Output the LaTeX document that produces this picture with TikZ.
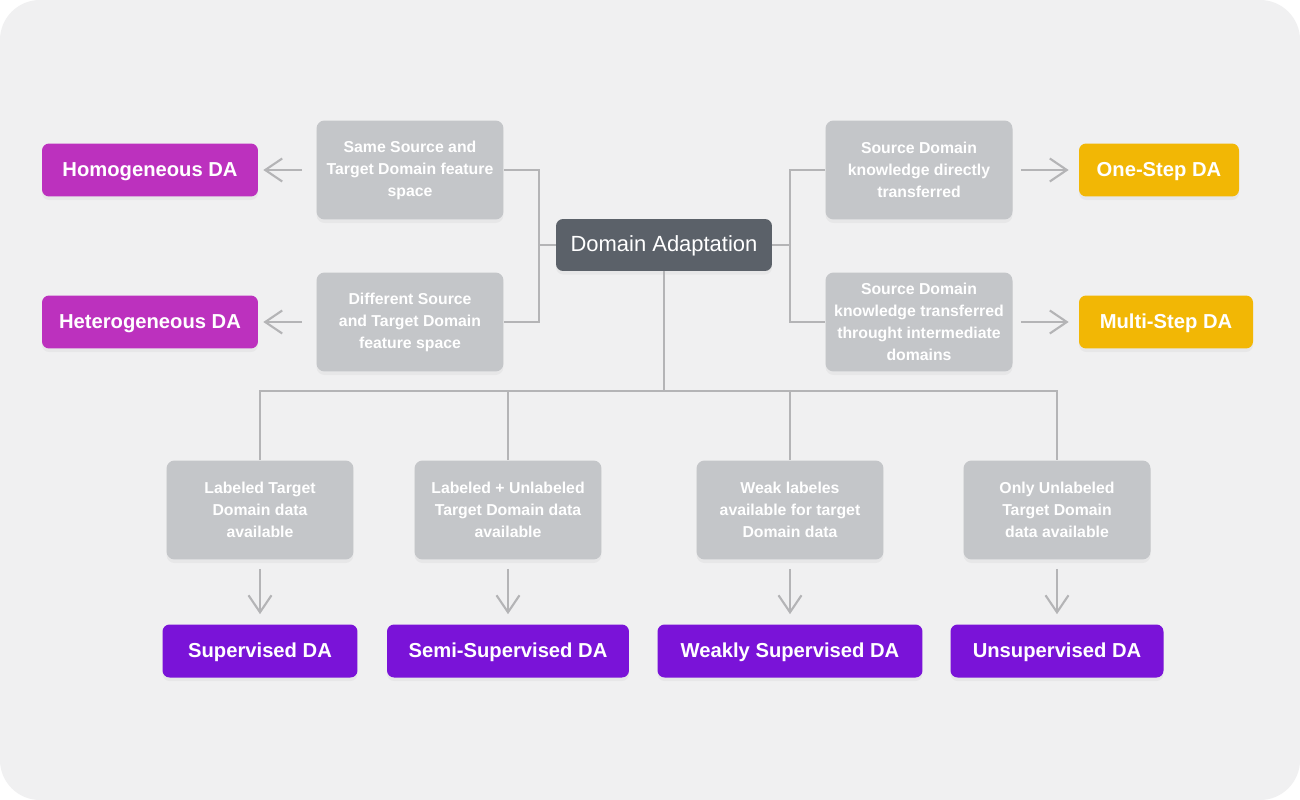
\documentclass[tikz,border=0pt]{standalone}
\usepackage{fontspec}
\setmainfont{Liberation Sans}
\usetikzlibrary{arrows.meta,shadows}

\definecolor{bgcol}{HTML}{F0F0F1}
\definecolor{boxgray}{HTML}{C4C6C9}
\definecolor{rootgray}{HTML}{5B6169}
\definecolor{magentada}{HTML}{BC31BE}
\definecolor{yellowda}{HTML}{F2B705}
\definecolor{purpleda}{HTML}{7A13D8}
\definecolor{linegray}{HTML}{B4B4B6}

\tikzset{
  softshadow/.style={drop shadow={shadow xshift=0pt,shadow yshift=-2pt,opacity=0.035,fill=black}},
  condbox/.style={rectangle, rounded corners=0.16cm, fill=boxgray, text=white, softshadow,
    minimum width=3.74cm, minimum height=1.98cm, align=center,
    font=\fontsize{9}{12.5}\selectfont\bfseries},
  dabox/.style={rectangle, rounded corners=0.14cm, text=white, softshadow,
    minimum height=1.06cm, align=center, text height=0.9em, text depth=0.18em,
    font=\fontsize{11.5}{14}\selectfont\bfseries},
  rootbox/.style={rectangle, rounded corners=0.14cm, fill=rootgray, text=white, softshadow,
    minimum width=4.32cm, minimum height=1.04cm, text height=0.9em, text depth=0.18em,
    font=\fontsize{12.5}{15}\selectfont},
  link/.style={draw=linegray, line width=1.1pt},
  arr/.style={draw=linegray, line width=1.2pt, -{Straight Barb[length=0.34cm,width=0.46cm]}}
}

\begin{document}
\begin{tikzpicture}[x=0.02cm,y=-0.02cm]
% background card
\fill[white] (0,0) rectangle (1300,800);
\fill[bgcol, rounded corners=0.8cm] (0,0) rectangle (1300,800);

% root
\node[rootbox] (root) at (664,245) {Domain Adaptation};

% feature space side
\node[condbox] (same) at (410,170) {Same Source and\\Target Domain feature\\space};
\node[condbox] (diff) at (410,322) {Different Source\\and Target Domain\\feature space};
\node[dabox, fill=magentada, minimum width=4.32cm] (homo) at (150,170) {Homogeneous DA};
\node[dabox, fill=magentada, minimum width=4.32cm] (hetero) at (150,322) {Heterogeneous DA};

% steps side
\node[condbox] (direct) at (919,170) {Source Domain\\knowledge directly\\transferred};
\node[condbox] (inter) at (919,322) {Source Domain\\knowledge transferred\\throught intermediate\\domains};
\node[dabox, fill=yellowda, minimum width=3.2cm] (one) at (1159,170) {One-Step DA};
\node[dabox, fill=yellowda, minimum width=3.48cm] (multi) at (1166,322) {Multi-Step DA};

% label availability
\node[condbox] (lab) at (260,510) {Labeled Target\\Domain data\\available};
\node[condbox] (labun) at (508,510) {Labeled + Unlabeled\\Target Domain data\\available};
\node[condbox] (weak) at (790,510) {Weak labeles\\available for target\\Domain data};
\node[condbox] (unl) at (1057,510) {Only Unlabeled\\Target Domain\\data available};
\node[dabox, fill=purpleda, minimum width=3.9cm] (sup) at (260,651) {Supervised DA};
\node[dabox, fill=purpleda, minimum width=4.84cm] (semi) at (508,651) {Semi-Supervised DA};
\node[dabox, fill=purpleda, minimum width=5.3cm] (wsup) at (790,651) {Weakly Supervised DA};
\node[dabox, fill=purpleda, minimum width=4.26cm] (unsup) at (1057,651) {Unsupervised DA};

% tree lines
\coordinate (lj) at (539,245);
\coordinate (rj) at (790,245);
\coordinate (bj) at (664,391);
\draw[link] (root.west) -- (lj);
\draw[link] (same.east) -| (lj) |- (diff.east);
\draw[link] (root.east) -- (rj);
\draw[link] (direct.west) -| (rj) |- (inter.west);
\draw[link] (root.south) -- (bj);
\draw[link] (lab.north) -- (lab.north |- bj) -- (unl.north |- bj) -- (unl.north);
\draw[link] (labun.north) -- (labun.north |- bj);
\draw[link] (weak.north) -- (weak.north |- bj);

% arrows
\draw[arr] ([xshift=-0.28cm]same.west) -- ([xshift=0.1cm]homo.east);
\draw[arr] ([xshift=-0.28cm]diff.west) -- ([xshift=0.1cm]hetero.east);
\draw[arr] ([xshift=0.16cm]direct.east) -- ([xshift=-0.2cm]one.west);
\draw[arr] ([xshift=0.16cm]inter.east) -- ([xshift=-0.2cm]multi.west);
\draw[arr] ([yshift=-0.18cm]lab.south) -- ([yshift=0.2cm]sup.north);
\draw[arr] ([yshift=-0.18cm]labun.south) -- ([yshift=0.2cm]semi.north);
\draw[arr] ([yshift=-0.18cm]weak.south) -- ([yshift=0.2cm]wsup.north);
\draw[arr] ([yshift=-0.18cm]unl.south) -- ([yshift=0.2cm]unsup.north);
\end{tikzpicture}
\end{document}
